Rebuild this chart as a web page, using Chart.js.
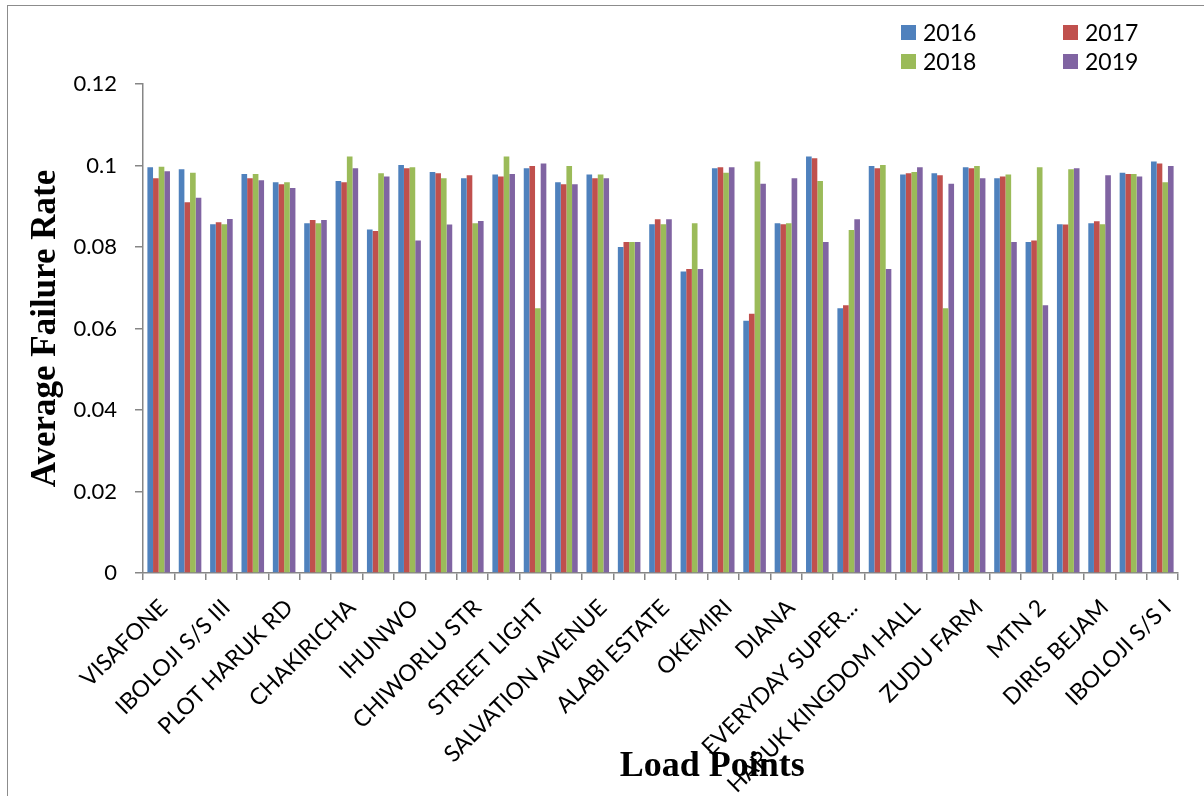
<!DOCTYPE html>
<html>
<head>
<meta charset="utf-8">
<script src="https://cdn.jsdelivr.net/npm/chart.js@4/dist/chart.umd.min.js"></script>
<style>
  html, body { margin: 0; padding: 0; background: #fff; }
  #wrap { position: relative; width: 1204px; height: 796px; overflow: hidden; }
  #frame { position: absolute; left: 7px; top: 5px; width: 1400px; height: 1000px;
           border-left: 1.5px solid #8c8c8c; border-top: 1.5px solid #8c8c8c; }
  #chart { position: absolute; left: 0; top: 0; }
  .leg { position: absolute; font-family: Lato, "Open Sans", sans-serif; font-size: 23px; color: #000; line-height: 28px; }
  .leg i { position: absolute; width: 15px; height: 15px; left: 0; top: 7px; }
  .leg span { position: absolute; left: 22px; top: 0; white-space: nowrap; }
</style>
</head>
<body>
<div id="wrap">
  <div id="frame"></div>
  <canvas id="chart" width="1204" height="796"></canvas>
  <div id="legend"></div>
</div>
<script>
// Load points (every second one carries a printed name)
const categories = [
  'VISAFONE', '', 'IBOLOJI S/S III', '', 'PLOT HARUK RD', '', 'CHAKIRICHA', '',
  'IHUNWO', '', 'CHIWORLU STR', '', 'STREET LIGHT', '', 'SALVATION AVENUE', '',
  'ALABI ESTATE', '', 'OKEMIRI', '', 'DIANA', '', 'EVERYDAY SUPER...', '',
  'HARUK KINGDOM HALL', '', 'ZUDU FARM', '', 'MTN 2', '', 'DIRIS BEJAM', '',
  'IBOLOJI S/S I'
];

const years = ['2016', '2017', '2018', '2019'];

const rate2016 = [0.0996, 0.0991, 0.0856, 0.0979, 0.0959, 0.0858, 0.0962, 0.0843, 0.1001, 0.0984, 0.0969,
                  0.0978, 0.0993, 0.0959, 0.0978, 0.0800, 0.0856, 0.0740, 0.0993, 0.0619, 0.0858, 0.1022,
                  0.0650, 0.0999, 0.0978, 0.0981, 0.0996, 0.0969, 0.0812, 0.0856, 0.0858, 0.0982, 0.1010];
const rate2017 = [0.0969, 0.0910, 0.0861, 0.0969, 0.0954, 0.0866, 0.0959, 0.0839, 0.0993, 0.0981, 0.0976,
                  0.0973, 0.0999, 0.0954, 0.0969, 0.0812, 0.0868, 0.0746, 0.0996, 0.0636, 0.0856, 0.1018,
                  0.0657, 0.0993, 0.0981, 0.0976, 0.0993, 0.0973, 0.0816, 0.0855, 0.0863, 0.0979, 0.1005];
const rate2018 = [0.0997, 0.0982, 0.0856, 0.0979, 0.0959, 0.0858, 0.1022, 0.0981, 0.0996, 0.0969, 0.0858,
                  0.1022, 0.0650, 0.0999, 0.0978, 0.0812, 0.0856, 0.0858, 0.0982, 0.1010, 0.0858, 0.0962,
                  0.0842, 0.1001, 0.0984, 0.0650, 0.0999, 0.0978, 0.0996, 0.0991, 0.0856, 0.0979, 0.0959];
const rate2019 = [0.0986, 0.0921, 0.0869, 0.0964, 0.0945, 0.0866, 0.0993, 0.0973, 0.0816, 0.0855, 0.0864,
                  0.0979, 0.1005, 0.0954, 0.0969, 0.0812, 0.0868, 0.0746, 0.0996, 0.0955, 0.0969, 0.0812,
                  0.0868, 0.0746, 0.0996, 0.0955, 0.0969, 0.0812, 0.0657, 0.0993, 0.0976, 0.0973, 0.0999];

const seriesColors = ['#4F81BD', '#C0504D', '#9BBB59', '#8064A2'];

const yTicks = [0, 0.02, 0.04, 0.06, 0.08, 0.1, 0.12];

const yTitle = 'Average Failure Rate';
const xTitle = 'Load Points';

const AXIS = '#868686';
const series = [rate2016, rate2017, rate2018, rate2019];

// Horizontal-axis title, centred a little right of the plot middle
const xTitlePlugin = {
  id: 'xTitle',
  afterDraw(chart) {
    const { ctx, chartArea } = chart;
    ctx.save();
    ctx.font = 'bold 36px "Liberation Serif", "Times New Roman", serif';
    ctx.fillStyle = '#000';
    ctx.textAlign = 'center';
    ctx.textBaseline = 'alphabetic';
    const cx = chartArea.left + (chartArea.right - chartArea.left) * 0.55;
    ctx.fillText(xTitle, cx, chartArea.bottom + 203);
    ctx.restore();
  }
};

new Chart(document.getElementById('chart'), {
  type: 'bar',
  data: {
    labels: categories,
    datasets: years.map((y, i) => ({
      label: y,
      data: series[i],
      backgroundColor: seriesColors[i],
      borderWidth: 0,
      categoryPercentage: 0.72,
      barPercentage: 1.0
    }))
  },
  options: {
    responsive: false,
    devicePixelRatio: 1,
    animation: false,
    layout: { padding: { top: 84, right: 26, left: 0, bottom: 0 } },
    plugins: { legend: { display: false }, tooltip: { enabled: false } },
    scales: {
      x: {
        afterFit(s) { s.height = 796 - 573; },
        grid: { display: true, drawOnChartArea: false, drawTicks: true, tickLength: 7, color: AXIS, lineWidth: 1.5, offset: true },
        border: { display: true, color: AXIS, width: 1.5 },
        ticks: {
          autoSkip: false, maxRotation: 45, minRotation: 45, padding: 14, labelOffset: 5,
          color: '#000', font: { family: 'Lato, "Open Sans", sans-serif', size: 23 }
        }
      },
      y: {
        min: 0, max: 0.12,
        afterFit(s) { s.width = 143; },
        afterBuildTicks(s) { s.ticks = yTicks.map(v => ({ value: v })); },
        grid: { display: true, drawOnChartArea: false, drawTicks: true, tickLength: 8, color: AXIS, lineWidth: 1.5 },
        border: { display: true, color: AXIS, width: 1.5 },
        ticks: {
          padding: 18, color: '#000',
          font: { family: 'Lato, "Open Sans", sans-serif', size: 22 },
          callback: v => String(+Number(v).toFixed(2))
        },
        title: {
          display: true, text: yTitle, color: '#000',
          font: { family: '"Liberation Serif", "Times New Roman", serif', size: 35, weight: 'bold' },
          padding: { top: 25, bottom: 0 }
        }
      }
    }
  },
  plugins: [xTitlePlugin]
});

// Two-by-two legend in the upper right
const legendPos = [[901, 18], [1063, 18], [901, 47], [1063, 47]];
const legend = document.getElementById('legend');
years.forEach((y, i) => {
  const d = document.createElement('div');
  d.className = 'leg';
  d.style.left = legendPos[i][0] + 'px';
  d.style.top = legendPos[i][1] + 'px';
  d.innerHTML = '<i style="background:' + seriesColors[i] + '"></i><span>' + y + '</span>';
  legend.appendChild(d);
});
</script>
</body>
</html>
